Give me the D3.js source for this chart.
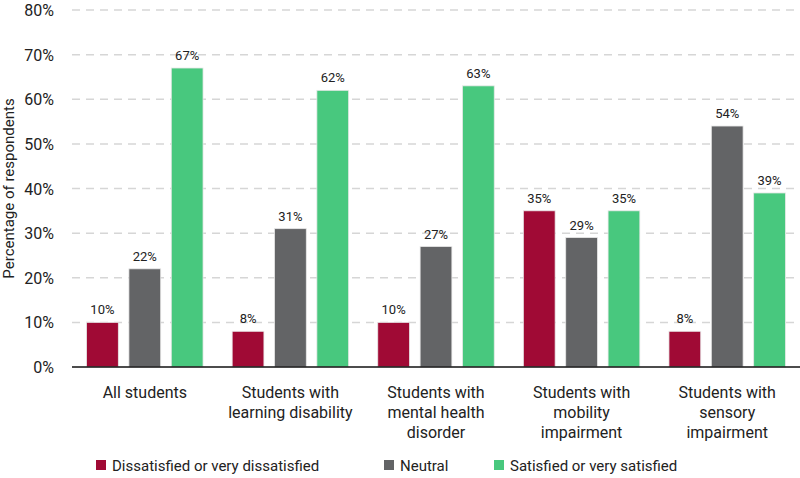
<!DOCTYPE html>
<html><head><meta charset="utf-8">
<script src="https://cdn.jsdelivr.net/npm/d3@7"></script>
<style>body{margin:0;background:#fff}text{font-family:Roboto,"DejaVu Sans",sans-serif}</style>
</head><body><svg id="chart" width="800" height="478"></svg>
<script>
var categories = [["All students"], ["Students with", "learning disability"], ["Students with", "mental health", "disorder"], ["Students with", "mobility", "impairment"], ["Students with", "sensory", "impairment"]];
var seriesNames = ["Dissatisfied or very dissatisfied", "Neutral", "Satisfied or very satisfied"];
var colors = ["#a00a35", "#636466", "#48c87e"];
var dissatisfied = [10, 8, 10, 35, 8];
var neutral = [22, 31, 27, 29, 54];
var satisfied = [67, 62, 63, 35, 39];
var yTicks = [0, 10, 20, 30, 40, 50, 60, 70, 80];
var series = [dissatisfied, neutral, satisfied];

(function(){
var svg = d3.select("#chart");
var mLeft = 72, mRight = 800, mTop = 10, mBottom = 367;
var x = d3.scaleBand().domain(d3.range(categories.length)).range([mLeft, mRight]).paddingInner(0.2).paddingOuter(0.1);
var xi = d3.scaleBand().domain(d3.range(3)).range([0, x.bandwidth()]).paddingInner(0.25);
var y = d3.scaleLinear().domain([0, 80]).range([mBottom, mTop]);

// grid
svg.selectAll(".grid").data(yTicks.slice(1)).enter().append("line")
  .attr("x1", mLeft).attr("x2", mRight).attr("y1", function(d){return y(d);}).attr("y2", function(d){return y(d);})
  .attr("stroke", "#d6d6d6").attr("stroke-width", 1.5).attr("stroke-dasharray", "8,6");
svg.selectAll(".ytick").data(yTicks).enter().append("text")
  .attr("x", 54).attr("y", function(d){return y(d) + 6;}).attr("text-anchor", "end")
  .attr("font-size", 16).attr("fill", "#222").text(function(d){return d + "%";});
svg.append("text").attr("transform", "translate(14," + ((mTop + mBottom) / 2) + ") rotate(-90)")
  .attr("text-anchor", "middle").attr("font-size", 15).attr("fill", "#222").text("Percentage of respondents");

series.forEach(function(vals, s){
  var g = svg.append("g");
  g.selectAll("rect").data(vals).enter().append("rect")
    .attr("x", function(d, i){return x(i) + xi(s);}).attr("width", xi.bandwidth())
    .attr("y", function(d){return y(d);}).attr("height", function(d){return mBottom - y(d);})
    .attr("fill", colors[s]).attr("stroke", "#e8e8e8").attr("stroke-width", 0.8);
  g.selectAll("text").data(vals).enter().append("text")
    .attr("x", function(d, i){return x(i) + xi(s) + xi.bandwidth() / 2;}).attr("y", function(d){return y(d) - 8;})
    .attr("text-anchor", "middle").attr("font-size", 13).attr("fill", "#222").text(function(d){return d + "%";});
});

svg.append("line").attr("x1", mLeft).attr("x2", mRight).attr("y1", mBottom).attr("y2", mBottom).attr("stroke", "#111").attr("stroke-width", 1.5);

categories.forEach(function(lines, i){
  var t = svg.append("text").attr("text-anchor", "middle").attr("font-size", 16).attr("fill", "#222");
  lines.forEach(function(l, k){
    t.append("tspan").attr("x", x(i) + x.bandwidth() / 2).attr("y", 398 + k * 20).text(l);
  });
});

var legX = [96, 384, 494];
seriesNames.forEach(function(n, s){
  svg.append("rect").attr("x", legX[s]).attr("y", 460).attr("width", 10).attr("height", 10).attr("fill", colors[s]);
  svg.append("text").attr("x", legX[s] + 16).attr("y", 471).attr("font-size", 15).attr("fill", "#222").text(n);
});
})();
</script></body></html>
